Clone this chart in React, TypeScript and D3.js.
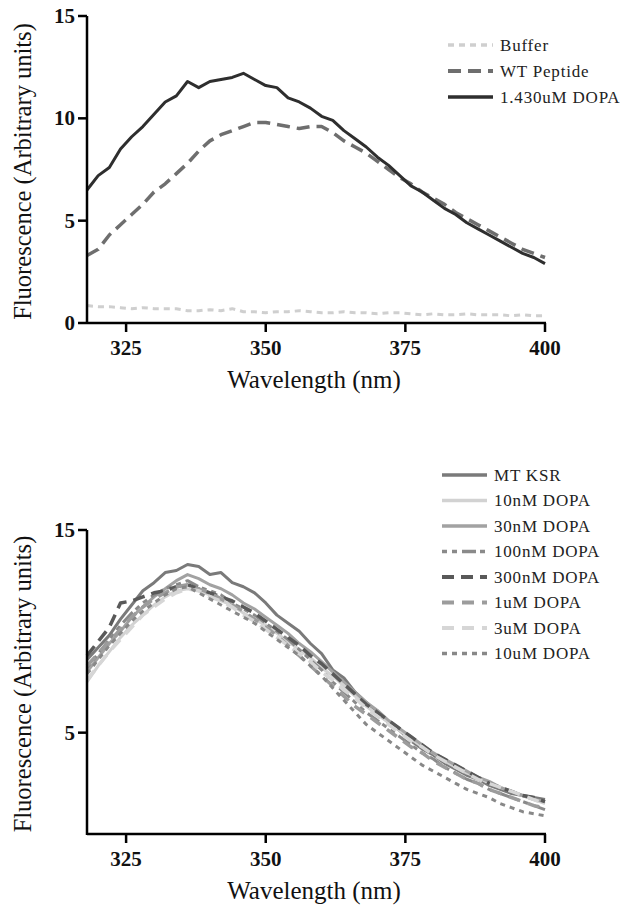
import React from "react";
import * as d3 from "d3";

// wavelength grid (nm) shared by all traces
const wavelengths = [
  318, 320, 322, 324, 326, 328, 330, 332, 334, 336, 338, 340, 342, 344, 346, 348, 350, 352, 354, 356, 358,
  360, 362, 364, 366, 368, 370, 372, 374, 376, 378, 380, 382, 384, 386, 388, 390, 392, 394, 396, 398, 400,
];

// top panel
const buffer = [
  0.85, 0.8, 0.8, 0.75, 0.7, 0.75, 0.7, 0.7, 0.7, 0.6, 0.6, 0.65, 0.6, 0.7, 0.55, 0.55, 0.5, 0.55, 0.55, 0.6, 0.55,
  0.5, 0.5, 0.55, 0.5, 0.5, 0.45, 0.5, 0.5, 0.45, 0.4, 0.45, 0.4, 0.4, 0.45, 0.4, 0.4, 0.4, 0.35, 0.4, 0.35, 0.35,
];
const wtPeptide = [
  3.3, 3.6, 4.3, 4.8, 5.3, 5.8, 6.4, 6.8, 7.3, 7.8, 8.4, 8.9, 9.2, 9.4, 9.6, 9.8, 9.8, 9.7, 9.6, 9.5, 9.6,
  9.6, 9.3, 8.9, 8.6, 8.3, 7.9, 7.5, 7.1, 6.8, 6.4, 6.1, 5.8, 5.4, 5.1, 4.8, 4.5, 4.2, 3.9, 3.6, 3.4, 3.2,
];
const dopa1430 = [
  6.5, 7.2, 7.6, 8.5, 9.1, 9.6, 10.2, 10.8, 11.1, 11.8, 11.5, 11.8, 11.9, 12.0, 12.2, 11.9, 11.6, 11.5, 11.0, 10.8, 10.5,
  10.1, 9.9, 9.4, 9.0, 8.6, 8.1, 7.7, 7.2, 6.7, 6.4, 6.0, 5.6, 5.3, 4.9, 4.6, 4.3, 4.0, 3.7, 3.4, 3.2, 2.9,
];

// bottom panel
const mtKsr = [
  8.6, 9.2, 9.8, 10.6, 11.3, 12.0, 12.4, 12.9, 13.0, 13.3, 13.2, 12.8, 12.9, 12.4, 12.2, 11.9, 11.4, 10.8, 10.4, 10.0, 9.4,
  8.9, 8.1, 7.7, 7.0, 6.5, 6.0, 5.5, 5.1, 4.6, 4.2, 3.9, 3.5, 3.2, 2.9, 2.7, 2.4, 2.2, 2.0, 1.9, 1.8, 1.7,
];
const dopa10nM = [
  7.5, 8.3, 9.0, 9.7, 10.3, 10.8, 11.3, 11.7, 12.0, 12.1, 12.0, 11.8, 11.5, 11.3, 10.9, 10.6, 10.3, 9.9, 9.5, 9.1, 8.7,
  8.2, 7.8, 7.3, 6.8, 6.3, 5.9, 5.5, 5.1, 4.7, 4.3, 4.0, 3.6, 3.3, 3.0, 2.8, 2.5, 2.3, 2.1, 1.9, 1.7, 1.5,
];
const dopa30nM = [
  8.0, 8.7, 9.4, 10.0, 10.7, 11.2, 11.7, 12.1, 12.5, 12.8, 12.6, 12.3, 12.1, 11.8, 11.4, 11.1, 10.7, 10.3, 9.9, 9.4, 9.0,
  8.5, 8.0, 7.5, 7.0, 6.5, 6.1, 5.6, 5.2, 4.8, 4.4, 4.0, 3.7, 3.4, 3.1, 2.8, 2.6, 2.3, 2.1, 1.9, 1.7, 1.6,
];
const dopa100nM = [
  8.2, 8.9, 9.6, 10.3, 10.9, 11.4, 11.8, 12.1, 12.3, 12.5, 12.2, 12.0, 11.8, 11.4, 11.1, 10.8, 10.4, 10.0, 9.6, 9.1, 8.6,
  8.1, 7.5, 7.0, 6.5, 6.0, 5.6, 5.2, 4.8, 4.4, 4.0, 3.7, 3.3, 3.0, 2.7, 2.5, 2.2, 2.0, 1.8, 1.6, 1.4, 1.2,
];
const dopa300nM = [
  8.8, 9.5, 10.2, 11.4, 11.5, 11.7, 11.9, 12.0, 12.2, 12.3, 12.1, 11.9, 11.7, 11.5, 11.2, 10.9, 10.5, 10.1, 9.7, 9.3, 8.8,
  8.4, 7.9, 7.4, 6.9, 6.4, 6.0, 5.6, 5.2, 4.8, 4.4, 4.0, 3.7, 3.4, 3.1, 2.8, 2.5, 2.3, 2.1, 1.9, 1.8, 1.6,
];
const dopa1uM = [
  8.3, 8.9, 9.5, 10.1, 10.7, 11.2, 11.6, 11.9, 12.2, 12.3, 12.1, 11.9, 11.6, 11.3, 11.0, 10.6, 10.2, 9.8, 9.3, 8.8, 8.3,
  7.8, 7.3, 6.8, 6.3, 5.9, 5.5, 5.1, 4.7, 4.3, 4.0, 3.6, 3.3, 3.0, 2.7, 2.5, 2.2, 2.0, 1.8, 1.6, 1.4, 1.3,
];
const dopa3uM = [
  7.6, 8.3, 9.0, 9.6, 10.2, 10.8, 11.2, 11.6, 11.9, 12.1, 12.0, 11.7, 11.5, 11.2, 10.8, 10.5, 10.1, 9.7, 9.3, 8.9, 8.5,
  8.0, 7.6, 7.1, 6.7, 6.2, 5.8, 5.4, 5.0, 4.6, 4.3, 3.9, 3.6, 3.3, 3.0, 2.7, 2.5, 2.3, 2.1, 1.9, 1.7, 1.5,
];
const dopa10uM = [
  7.9, 8.6, 9.3, 9.9, 10.5, 11.0, 11.4, 11.8, 12.1, 12.2, 11.9, 11.6, 11.3, 11.0, 10.7, 10.4, 10.0, 9.6, 9.2, 8.8, 8.3,
  7.8, 7.2, 6.6, 6.0, 5.4, 5.0, 4.6, 4.2, 3.8, 3.4, 3.1, 2.8, 2.5, 2.2, 2.0, 1.8, 1.5, 1.3, 1.1, 1.0, 0.9,
];

const xTicks = [325, 350, 375, 400];
const topYTicks = [0, 5, 10, 15];
const bottomYTicks = [5, 15];

type Series = { name: string; values: number[]; color: string; dash: string; width: number };

const topSeries: Series[] = [
  { name: "Buffer", values: buffer, color: "#cfcfcf", dash: "6,5", width: 3 },
  { name: "WT Peptide", values: wtPeptide, color: "#6e6e6e", dash: "13,7", width: 3.5 },
  { name: "1.430uM DOPA", values: dopa1430, color: "#2e2e2e", dash: "", width: 3 },
];

const bottomSeries: Series[] = [
  { name: "MT KSR", values: mtKsr, color: "#7a7a7a", dash: "", width: 3 },
  { name: "10nM DOPA", values: dopa10nM, color: "#d2d2d2", dash: "", width: 3 },
  { name: "30nM DOPA", values: dopa30nM, color: "#a2a2a2", dash: "", width: 3 },
  { name: "100nM DOPA", values: dopa100nM, color: "#8a8a8a", dash: "5,5,5,5,14,4", width: 3 },
  { name: "300nM DOPA", values: dopa300nM, color: "#595959", dash: "12,7", width: 3.5 },
  { name: "1uM DOPA", values: dopa1uM, color: "#9c9c9c", dash: "12,8", width: 3.5 },
  { name: "3uM DOPA", values: dopa3uM, color: "#d6d6d6", dash: "12,8", width: 3.5 },
  { name: "10uM DOPA", values: dopa10uM, color: "#888888", dash: "5,5", width: 3 },
];

const FONT = "Liberation Serif, Tinos, Times New Roman, DejaVu Serif, serif";

const Panel = ({
  series,
  yTicks,
  top,
  bottom,
  legendX,
  legendY,
  legendStep,
}: {
  series: Series[];
  yTicks: number[];
  top: number;
  bottom: number;
  legendX: number;
  legendY: number;
  legendStep: number;
}) => {
  const x = d3.scaleLinear().domain([318, 400]).range([87, 545]);
  const y = d3.scaleLinear().domain([0, 15]).range([bottom, top]);
  const line = d3
    .line<number>()
    .x((_, i) => x(wavelengths[i]))
    .y((d) => y(d));

  return (
    <g style={{ fontFamily: FONT }}>
      {series.map((s) => (
        <path
          key={s.name}
          d={line(s.values) ?? ""}
          fill="none"
          stroke={s.color}
          strokeWidth={s.width}
          strokeDasharray={s.dash || undefined}
          strokeLinejoin="round"
        />
      ))}
      {/* axes */}
      <line x1={x(318)} x2={x(400) + 1} y1={y(0)} y2={y(0)} stroke="#000" strokeWidth={2.5} />
      <line x1={x(318)} x2={x(318)} y1={y(0) + 1} y2={y(15)} stroke="#000" strokeWidth={2.5} />
      {xTicks.map((t) => (
        <g key={t}>
          <line x1={x(t)} x2={x(t)} y1={y(0)} y2={y(0) + 9} stroke="#000" strokeWidth={2.5} />
          <text x={x(t)} y={y(0) + 32} textAnchor="middle" fontSize={21} fontWeight="bold" fill="#111">
            {t}
          </text>
        </g>
      ))}
      {yTicks.map((t) => (
        <g key={t}>
          <line x1={x(318) - 9} x2={x(318)} y1={y(t)} y2={y(t)} stroke="#000" strokeWidth={2.5} />
          <text x={x(318) - 12} y={y(t) + 7} textAnchor="end" fontSize={21} fontWeight="bold" fill="#111">
            {t}
          </text>
        </g>
      ))}
      <text
        transform={`translate(31,${(top + bottom) / 2 + 2}) rotate(-90)`}
        textAnchor="middle"
        fontSize={24.5}
        fill="#111"
      >
        Fluorescence (Arbitrary units)
      </text>
      <text x={314} y={bottom + 65} textAnchor="middle" fontSize={25} fill="#111">
        Wavelength (nm)
      </text>
      {/* legend */}
      {series.map((s, i) => (
        <g key={s.name} transform={`translate(${legendX},${legendY + i * legendStep})`}>
          <line x1={0} x2={45} y1={0} y2={0} stroke={s.color} strokeWidth={s.width + 0.5} strokeDasharray={s.dash || undefined} />
          <text x={52} y={5.5} fontSize={17} letterSpacing={0.8} fill="#222">
            {s.name}
          </text>
        </g>
      ))}
    </g>
  );
};

export default function App() {
  return (
    <svg
      width={629}
      height={905}
      style={{ position: "absolute", left: 0, top: 0, background: "#fff" }}
    >
      <rect width={629} height={905} fill="#fff" />
      <Panel series={topSeries} yTicks={topYTicks} top={16} bottom={323} legendX={448} legendY={45} legendStep={26} />
      <Panel
        series={bottomSeries}
        yTicks={bottomYTicks}
        top={530}
        bottom={834}
        legendX={442}
        legendY={475}
        legendStep={25.5}
      />
    </svg>
  );
}
